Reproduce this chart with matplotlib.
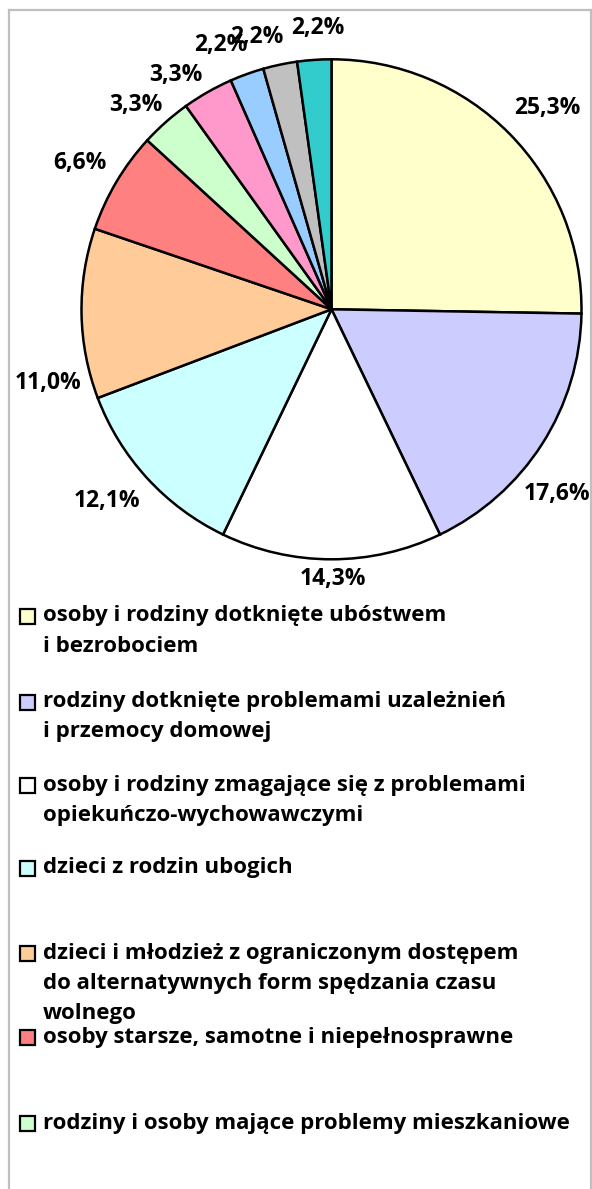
import numpy as np
import matplotlib
matplotlib.use('Agg')
import matplotlib.pyplot as plt
import matplotlib.patches as mpatches
from matplotlib.lines import Line2D

# =============================================================================
# Data
# =============================================================================

values = [25.3, 17.6, 14.3, 12.1, 11.0, 6.6, 3.3, 3.3, 2.2, 2.2, 2.2]
colors = ['#FFFFCC', '#CCCCFF', '#FFFFFF', '#CCFFFF', '#FFCC99', '#FF8080',
          '#CCFFCC', '#FF99CC', '#99CCFF', '#C0C0C0', '#33CCCC']

legend_labels = [
    'osoby i rodziny dotknięte ubóstwem\ni bezrobociem',
    'rodziny dotknięte problemami uzależnień\ni przemocy domowej',
    'osoby i rodziny zmagające się z problemami\nopiekuńczo-wychowawczymi',
    'dzieci z rodzin ubogich',
    'dzieci i młodzież z ograniczonym dostępem\ndo alternatywnych form spędzania czasu\nwolnego',
    'osoby starsze, samotne i niepełnosprawne',
    'rodziny i osoby mające problemy mieszkaniowe',
]

# =============================================================================
# Layout
# =============================================================================

W, H = 592, 1189
cx, cy, R = 331.5, 309.3, 250

# label placement: radial distance (in radii) and angle nudge (deg) per slice
label_dist = [1.18, 1.165, 1.08, 1.18, 1.17, 1.165, 1.13, 1.125, 1.145, 1.13, 1.125]
label_nudge = [-1.5, -6.6, 0.4, -2.0, 13.6, 0.5, 2.2, 4.0, 3.0, 3.5, -1.2]

legend_y_px = [616, 702, 785, 868, 953, 1037, 1123]
line_step = 30

font_size = 16
plt.rcParams['font.family'] = ['Open Sans', 'DejaVu Sans']
plt.rcParams['font.weight'] = 'bold'

# =============================================================================
# Plot
# =============================================================================

fig = plt.figure(figsize=(W / 100, H / 100), dpi=100)
fig.patch.set_facecolor('white')

ax = fig.add_axes([(cx - R) / W, 1 - (cy + R) / H, 2 * R / W, 2 * R / H])
wedges, _ = ax.pie(values, colors=colors, startangle=90, counterclock=False,
                   wedgeprops=dict(edgecolor='black', linewidth=1.8))
ax.set_xlim(-1, 1)
ax.set_ylim(-1, 1)
ax.set_aspect('equal')
ax.axis('off')

for w, v, d, n in zip(wedges, values, label_dist, label_nudge):
    ang = np.deg2rad((w.theta1 + w.theta2) / 2 + n)
    txt = ('%.1f%%' % v).replace('.', ',')
    ax.text(d * np.cos(ang), d * np.sin(ang), txt, ha='center', va='center',
            fontsize=16.5, fontweight='bold', color='black', clip_on=False)

# legend
for label, y, c in zip(legend_labels, legend_y_px, colors):
    sq = mpatches.Rectangle((20 / W, 1 - (y + 7.5) / H), 15 / W, 15 / H,
                            transform=fig.transFigure, facecolor=c,
                            edgecolor='black', linewidth=1.6)
    fig.patches.append(sq)
    for k, line in enumerate(label.split('\n')):
        fig.text(43 / W, 1 - (y + k * line_step) / H, line, ha='left',
                 va='center', fontsize=font_size, fontweight='bold', color='black')

# chart frame
frame_kw = dict(transform=fig.transFigure, color='#C0C0C0', linewidth=1.6)
fig.lines.append(Line2D([9 / W, 9 / W], [0, 1 - 10 / H], **frame_kw))
fig.lines.append(Line2D([9 / W, 591 / W], [1 - 10 / H, 1 - 10 / H], **frame_kw))
fig.lines.append(Line2D([591 / W, 591 / W], [0, 1 - 10 / H], **frame_kw))

plt.savefig('out.png', dpi=100, facecolor='white')
